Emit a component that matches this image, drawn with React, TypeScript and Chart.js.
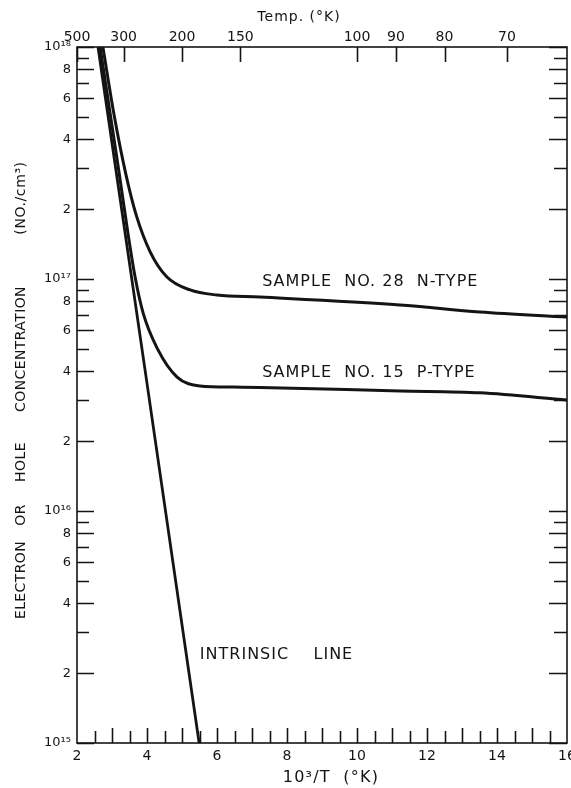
import React, { useEffect, useRef } from 'react';
import { Chart, registerables } from 'chart.js';

Chart.register(...registerables);

const FONT = "'DejaVu Sans', sans-serif";
const INK = '#141414';

// x = 10^3 / T (1/°K), y = carrier concentration (No./cm^3)
const intrinsicX = [2.6, 4.0, 5.49];
const intrinsicN = [1.0e18, 3.55e16, 1.0e15];

const nTypeX = [2.74, 3.06, 3.4, 3.69, 4.09, 4.57, 5.23, 6.0, 7.23, 11.23, 13.51, 16.0];
const nTypeN = [1.0e18, 5.09e17, 2.81e17, 1.89e17, 1.31e17, 1.02e17, 8.97e16, 8.53e16, 8.36e16, 7.73e16, 7.21e16, 6.86e16];

const pTypeX = [2.66, 2.94, 3.2, 3.43, 3.66, 3.89, 4.3, 4.86, 5.51, 6.46, 7.23, 11.23, 13.51, 16.0];
const pTypeN = [1.0e18, 5.25e17, 2.89e17, 1.67e17, 1.02e17, 7.13e16, 5.0e16, 3.78e16, 3.46e16, 3.42e16, 3.41e16, 3.29e16, 3.23e16, 3.01e16];

// axes
const bottomTickLabels = [2, 4, 6, 8, 10, 12, 14, 16];
const topTemps = [500, 300, 200, 150, 100, 90, 80, 70];
const yDecades = [15, 16, 17];
const yMantissas = [1, 2, 3, 4, 5, 6, 7, 8, 9];
const yLabeledMantissas = [2, 4, 6, 8];

// curve labels (data coordinates)
const curveLabels = [
  { text: 'SAMPLE  NO. 28  N-TYPE', x: 7.29, y: 9.7e16 },
  { text: 'SAMPLE  NO. 15  P-TYPE', x: 7.29, y: 3.95e16 },
  { text: 'INTRINSIC    LINE', x: 5.51, y: 2.39e15 },
];

// y-axis title words and their centres (px along the axis, from the top of the page)
const yTitleWords = ['ELECTRON', 'OR', 'HOLE', 'CONCENTRATION', '(NO./cm³)'];
const yTitleCentres = [580, 515, 462, 349, 198];

const SUP: Record<string, string> = { '0': '⁰', '1': '¹', '2': '²', '3': '³', '4': '⁴', '5': '⁵', '6': '⁶', '7': '⁷', '8': '⁸', '9': '⁹' };
const sup = (n: number) => String(n).split('').map((c) => SUP[c]).join('');

type YTick = { value: number; major: boolean; label: string };
const yTicks: YTick[] = [];
for (const d of yDecades) {
  for (const m of yMantissas) {
    const major = m === 1 || yLabeledMantissas.includes(m);
    const label = m === 1 ? '10' + sup(d) : yLabeledMantissas.includes(m) ? String(m) : '';
    yTicks.push({ value: m * Math.pow(10, d), major, label });
  }
}
yTicks.push({ value: 1e18, major: true, label: '10' + sup(18) });

const bottomMinor: number[] = [];
for (let v = 2.5; v < 16; v += 0.5) bottomMinor.push(v);

function drawSpaced(ctx: CanvasRenderingContext2D, text: string, x: number, y: number, spacing: number) {
  (ctx as any).letterSpacing = spacing + 'px';
  ctx.fillText(text, x, y);
  (ctx as any).letterSpacing = '0px';
}

const decorPlugin = {
  id: 'decor',
  afterDraw(chart: any) {
    const { ctx, chartArea: a, scales } = chart;
    const xs = scales.x;
    const ys = scales.y;
    ctx.save();
    ctx.strokeStyle = INK;
    ctx.fillStyle = INK;
    ctx.lineWidth = 1.6;
    ctx.strokeRect(a.left, a.top, a.right - a.left, a.bottom - a.top);

    ctx.beginPath();
    for (const t of yTicks) {
      const py = Math.round(ys.getPixelForValue(t.value)) + 0.5;
      ctx.moveTo(a.left, py);
      ctx.lineTo(a.left + (t.major ? 17 : 12), py);
      ctx.moveTo(a.right, py);
      ctx.lineTo(a.right - (t.major ? 18 : 13), py);
    }
    for (const v of bottomMinor) {
      const px = Math.round(xs.getPixelForValue(v)) + 0.5;
      const isInt = Math.abs(v - Math.round(v)) < 1e-6;
      ctx.moveTo(px, a.bottom);
      ctx.lineTo(px, a.bottom - (isInt ? 15 : 12));
    }
    for (const T of topTemps) {
      const px = Math.round(xs.getPixelForValue(1000 / T)) + 0.5;
      ctx.moveTo(px, a.top);
      ctx.lineTo(px, a.top + 15);
    }
    ctx.stroke();

    // curve labels
    ctx.textBaseline = 'middle';
    ctx.textAlign = 'left';
    ctx.font = `16px ${FONT}`;
    for (const l of curveLabels) {
      drawSpaced(ctx, l.text, xs.getPixelForValue(l.x), ys.getPixelForValue(l.y), 1);
    }

    // axis titles
    ctx.textAlign = 'center';
    ctx.font = `14px ${FONT}`;
    drawSpaced(ctx, 'Temp. (°K)', a.left + 222, 17, 1);
    ctx.font = `16px ${FONT}`;
    drawSpaced(ctx, '10³/T  (°K)', a.left + 254, a.bottom + 35, 1.2);

    ctx.font = `14px ${FONT}`;
    yTitleWords.forEach((w, i) => {
      ctx.save();
      ctx.translate(21, yTitleCentres[i]);
      ctx.rotate(-Math.PI / 2);
      drawSpaced(ctx, w, 0, 0, i === 4 ? 0.6 : 0.4);
      ctx.restore();
    });

    ctx.restore();
  },
};

export default function App() {
  const ref = useRef<HTMLCanvasElement>(null);
  useEffect(() => {
    const lineStyle = {
      borderColor: INK,
      borderWidth: 3,
      pointRadius: 0,
      fill: false,
      cubicInterpolationMode: 'monotone' as const,
    };
    const chart = new Chart(ref.current!, {
      type: 'line',
      data: {
        datasets: [
          { label: 'Intrinsic line', data: intrinsicX.map((x, i) => ({ x, y: intrinsicN[i] })), borderColor: INK, borderWidth: 2.8, pointRadius: 0, fill: false, tension: 0 },
          { label: 'Sample No. 28 N-type', data: nTypeX.map((x, i) => ({ x, y: nTypeN[i] })), ...lineStyle },
          { label: 'Sample No. 15 P-type', data: pTypeX.map((x, i) => ({ x, y: pTypeN[i] })), ...lineStyle },
        ],
      },
      options: {
        animation: false,
        responsive: false,
        devicePixelRatio: 1,
        layout: { padding: { left: 0, right: 4, top: 0, bottom: 0 } },
        plugins: { legend: { display: false }, tooltip: { enabled: false } },
        scales: {
          x: {
            type: 'linear',
            position: 'bottom',
            min: 2,
            max: 16,
            afterBuildTicks: (s: any) => { s.ticks = bottomTickLabels.map((v) => ({ value: v })); },
            ticks: { color: INK, font: { family: FONT, size: 14 }, padding: 5, autoSkip: false, maxRotation: 0, callback: (v: any) => String(v) },
            grid: { display: false, drawTicks: false },
            border: { display: false },
            afterFit: (s: any) => { s.height = 45; s.paddingLeft = 0; s.paddingRight = 0; },
          },
          x2: {
            type: 'linear',
            position: 'top',
            min: 2,
            max: 16,
            afterBuildTicks: (s: any) => { s.ticks = topTemps.map((t) => ({ value: 1000 / t })); },
            ticks: { color: INK, font: { family: FONT, size: 14 }, padding: 1, autoSkip: false, maxRotation: 0, callback: (_v: any, i: number) => String(topTemps[i]) },
            grid: { display: false, drawTicks: false },
            border: { display: false },
            afterFit: (s: any) => { s.height = 47; s.paddingLeft = 0; s.paddingRight = 0; },
          },
          y: {
            type: 'logarithmic',
            min: 1e15,
            max: 1e18,
            afterBuildTicks: (s: any) => { s.ticks = yTicks.map((t) => ({ value: t.value })); },
            ticks: { color: INK, font: { family: FONT, size: 13 }, padding: 6, autoSkip: false, callback: (_v: any, i: number) => yTicks[i].label },
            grid: { display: false, drawTicks: false },
            border: { display: false },
            afterFit: (s: any) => { s.width = 77; s.paddingTop = 0; s.paddingBottom = 0; },
          },
        },
      },
      plugins: [decorPlugin],
    } as any);
    return () => chart.destroy();
  }, []);
  return (
    <div style={{ position: 'absolute', left: 0, top: 0, width: 571, height: 788, background: '#fff' }}>
      <canvas ref={ref} width={571} height={788} style={{ display: 'block' }} />
    </div>
  );
}
